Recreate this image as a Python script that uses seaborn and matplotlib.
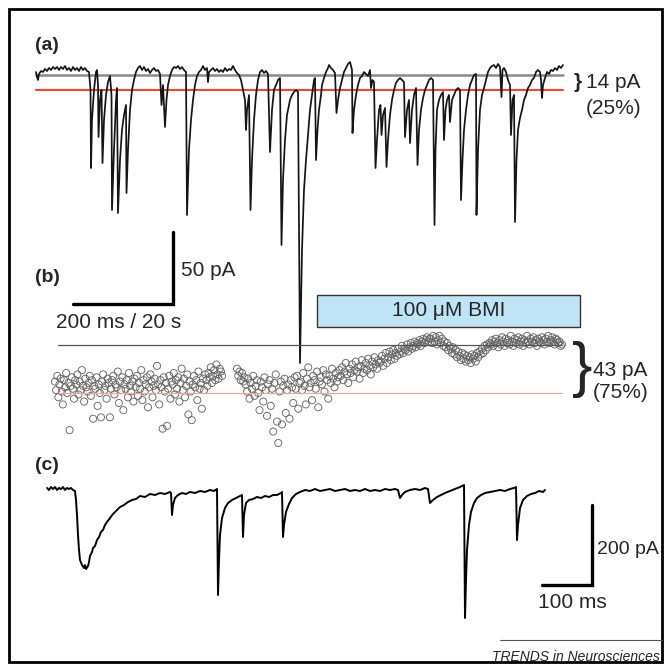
import numpy as np
import matplotlib
matplotlib.use('Agg')
import matplotlib.pyplot as plt
from matplotlib.patches import Rectangle
from matplotlib.lines import Line2D
import seaborn as sns

# (a) whole-cell trace: time (ms), current (pA, 0 = upper gray level)
a_ms = [0, 2, 4, 6, 10, 14, 18, 22, 26, 30, 34, 38, 42, 46, 50, 54, 58, 62, 66, 70, 74, 78, 82, 86, 90, 94, 98, 102, 106,
        109, 110, 112, 116, 120, 122, 124, 125, 128, 131, 133, 136, 140, 144, 148, 151, 152, 156, 160, 162, 164, 168, 172,
        176, 180, 181, 184, 188, 192, 196, 200, 204, 208, 212, 216, 220, 224, 228, 232, 236, 240, 244, 248, 251, 254, 258,
        261, 264, 268, 272, 276, 280, 284, 288, 292, 296, 300, 302, 306, 310, 314, 318, 322, 326, 330, 334, 338, 342, 344,
        346, 350, 354, 358, 362, 366, 370, 374, 378, 382, 386, 390, 394, 398, 402, 406, 410, 414, 418, 420, 422, 426, 429,
        432, 436, 440, 444, 448, 452, 456, 460, 464, 468, 472, 476, 480, 484, 488, 491, 494, 498, 502, 508, 512, 516, 520,
        524, 528, 532, 536, 540, 544, 548, 552, 554, 556, 558, 560, 563, 566, 570, 572, 576, 580, 584, 586, 590, 594, 598,
        601, 604, 608, 612, 616, 620, 624, 628, 632, 633, 636, 640, 644, 648, 652, 656, 660, 664, 668, 670, 673, 676, 679,
        682, 686, 689, 691, 694, 698, 701, 704, 708, 712, 716, 720, 724, 728, 732, 736, 738, 742, 746, 748, 752, 756, 760,
        763, 766, 770, 774, 778, 782, 786, 790, 794, 797, 799, 802, 806, 810, 814, 816, 819, 822, 826, 828, 832, 836, 840,
        844, 848, 850, 853, 856, 860, 864, 868, 872, 876, 880, 881, 884, 888, 892, 896, 900, 904, 908, 912, 916, 920, 924,
        928, 931, 933, 936, 940, 944, 948, 950, 953, 956, 958, 961, 964, 968, 972, 976, 980, 984, 988, 992, 996, 1000, 1004,
        1008, 1010, 1012, 1014, 1018, 1022, 1026, 1030, 1034, 1038, 1042, 1046, 1050, 1054]
a_pA = [2.1, -1.4, -3.5, 0.7, 2.8, 2.1, 4.2, 2.8, 4.9, 3.5, 5.6, 4.2, 5.6, 3.5, 5.6, 4.2, 6.3, 3.5, 4.9, 2.8, 5.6, 3.5,
        4.9, 2.8, 5.6, 3.5, 4.9, 2.8, 2.1,
        -10.5, -65.1, -31.5, -10.5, 2.1, 3.5, -7, -43.4, -17.5, -10.5, -61.6, -31.5, -14, -4.9, -0.7, -14, -94.5, -52.5,
        -17.5, -9.1, -96.6, -59.5, -38.5, -28, -21, -82.6, -52.5, -24.5, -10.5, -3.5, 2.1, 4.9, 6.3, 3.5, 5.6, 2.8, 4.2,
        1.4, 3.5, 4.9, 2.8, 3.5, 0.7, -21, -7, -36.4, -17.5, -7, -0.7, 3.5, 5.6, 4.9, 6.3, 4.2, 5.6, 3.5, 2.1, -98, -52.5,
        -31.5, -17.5, -7, -0.7, 2.1, 3.5, 6.3, 3.5, 4.9, -4.9, 2.1, 3.5, 4.9, 2.8, 4.2, 2.1, 3.5, 2.1, 4.9, 2.8, 4.2, 3.5,
        6.3, 3.5, 1.4, 0, -3.5, -10.5, -17.5, -38.5, -24.5, -14, -94.5, -59.5, -31.5, -14, -3.5, 2.1, 3.5, 1.4, 2.8, 0.7,
        -53.9, -24.5, -10.5, -7, -3.5, -2.1, -119, -73.5, -45.5, -28, -17.5, -14, -11.9, -10.5, -11.9, -201.6, -122.5,
        -80.5, -59.5, -42, -24.5, -14, -9.1, -3.5, -2.1, -59.5, -38.5, -24.5, -14, -7, -2.1, 2.1, 4.9, 7, 4.9, 3.5, 1.4,
        -26.6, -17.5, -9.1, -3.5, 2.1, 4.9, 7.7, 9.1, 3.5, -40.6, -24.5, -14, -7, -2.1, -0.7, 2.1, 0.7, -0.7, 3.5, -9.1,
        -3.5, -4.9, -65.1, -45.5, -24.5, -21, -42, -28, -23.1, -64.4, -45.5, -28, -17.5, -10.5, -5.6, -3.5, -2.1, -3.5,
        -4.9, -43.4, -24.5, -17.5, -47.6, -24.5, -14, -9.1, -63, -38.5, -24.5, -16.1, -10.5, -7, -3.5, -2.1, -3.5, -105,
        -52.5, -24.5, -17.5, -14, -11.9, -45.5, -24.5, -17.5, -14, -32.9, -17.5, -14, -10.5, -9.1, -10.5, -87.5, -59.5,
        -38.5, -24.5, -14, -7, -3.5, 0, 0.7, -98, -52.5, -24.5, -14, -9.1, -3.5, 2.1, 4.9, 6.3, 7, 4.9, 7.7, 5.6, -15.4,
        3.5, 4.9, 2.1, -3.5, -7, -42, -17.5, -14, -102.9, -59.5, -38.5, -30.1, -24.5, -17.5, -14, -9.1, -7, -3.5, -2.1, 2.1,
        3.5, 2.1, -3.5, -16.1, -7, -2.1, 2.1, 0.7, 3.5, 2.8, 4.9, 3.5, 6.3, 4.9, 7]
a_level_gray = 0.0
a_level_red = -10.5

# (b) holding current per sweep (pA, relative to control mean), two recording stretches
b_seg1_s = (0.0, 33.4)
b_seg1_pA = [8, 2, 12, -3, 6, 10, 1, -8, 9, 4, 14, 0, 7, -26, 5,
             11, 3, -4, 9, 6, 13, -1, 8, 2, 16, 5, -6, 10, 4, 1,
             7, 12, -2, 9, -18, 5, 3, 11, -9, 6, 0, -17, 8, 13, 2,
             5, -4, 10, 7, -17, 3, 9, 12, -1, 6, 4, 15, -7, 8, 2,
             11, -12, 6, 3, 9, -3, 14, 5, 1, 8, -6, 10, 4, 12, -2,
             7, 3, 16, -5, 9, 1, 6, 11, -10, 4, 13, 8, -3, 5, 10,
             2, 19, 6, -8, 9, 4, -25, 11, 1, 7, -23, 3, 12, -4, 8,
             6, 14, -1, 9, 3, 11, -6, 7, 17, 2, 10, -3, 5, 13, -15,
             8, 1, -19, 6, 12, 4, 9, -5, 15, 3, 7, -11, 10, 2, 13,
             9, 5, 14, 11, 18, 7, 12, 16, 9, 20, 13, 10, 17, 15, 12]
b_seg2_s = (36.4, 101.4)
b_seg2_pA = [17, 12, 15, 9, 14, 8, 11,
             6, 1, 10, -4, 7, 3, 12, -2, 5, 9, 0, -12, 8, 4, -6, 11, 2, -16, 6, 9, -9, 3, -27, 7, 13, -20, -35, 1, 8,
             -22, 5, 10, -14, 2, 6, -18, 9, 4, -7, 11, 3, 12, -11, 7,
             8, 2, 14, 5, -8, 10, 18, 4, 7, -5, 12, 9, 3, 15, -10, 8, 11, 6, 16, 1, 13, 9, -4, 12, 7, 17, 10, 4, 14, 8,
             11, 16,
             12, 18, 9, 15, 21, 13, 7, 17, 14, 20, 11, 16, 22, 15, 18, 10, 19, 23, 14, 17, 21, 16, 24, 19, 13, 22, 18,
             25, 20, 17, 23, 21,
             22, 26, 19, 24, 28, 21, 25, 29, 23, 27, 30, 24, 28, 26, 31, 27, 29, 33, 28, 31, 30, 34, 29, 32, 35, 31, 33,
             36, 32, 35, 34, 37, 33, 36, 38, 35, 37, 39, 36, 38,
             38, 35, 40, 36, 39, 34, 37, 40, 35, 38, 33, 36, 32, 35, 30, 33,
             31, 28, 32, 27, 30, 25, 29, 26, 23, 28, 24, 27, 22, 26, 23, 25, 21, 27, 24, 26, 22, 28, 25, 29, 27, 31, 28,
             33, 30, 34, 32, 35,
             34, 37, 33, 36, 38, 35, 32, 37, 34, 39, 36, 33, 38, 35, 37, 34, 40, 36, 33, 38, 35, 37, 39, 34, 36, 38, 33,
             37, 35, 40, 36, 34, 38, 36, 39, 35, 37, 33, 38, 36, 35, 39, 37, 34, 38, 36, 40, 35, 37, 39, 36, 34, 38, 37,
             35, 36, 33, 34]
b_level_gray = 33.6
b_level_red = 0.0
b_line_s = (0.6, 101.4)
bmi_s = (52.4, 105.0)
bmi_pA = (46.2, 68.6)

# (c) expanded trace: time (ms), current (pA)
c_ms = [0, 4, 8, 12, 16, 20, 24, 28, 32, 36, 40, 44, 48, 52, 56, 58, 60, 62, 64, 66, 70, 74, 76, 78, 82, 84, 86, 90, 92,
        96, 100, 104, 108, 112, 116, 120, 126, 132, 138, 146, 154, 162, 170, 178, 186, 196, 206, 216, 226, 236, 246, 248,
        250, 252, 256, 262, 270, 278, 286, 296, 306, 316, 326, 334, 340, 342, 344, 346, 350, 356, 362, 370, 378, 386, 390,
        392, 394, 398, 404, 412, 420, 428, 436, 444, 452, 460, 468, 470, 472, 474, 478, 484, 490, 498, 506, 516, 526, 536,
        546, 556, 566, 576, 586, 596, 606, 616, 626, 636, 646, 656, 666, 676, 686, 696, 702, 706, 710, 716, 726, 736, 746,
        756, 762, 766, 772, 780, 788, 796, 806, 816, 826, 834, 836, 838, 840, 844, 848, 854, 860, 868, 876, 886, 896, 906,
        916, 926, 934, 938, 940, 942, 946, 952, 960, 968, 976, 984, 992, 996]
c_pA = [2.5, -2.5, 5, 0, 5, -2.5, 2.5, 0, 5, -2.5, 2.5, 0, 2.5, -2.5, -5, -27.5, -65, -115, -152.5, -177.5, -190,
        -197.5, -190, -200, -192.5, -182.5, -167.5, -157.5, -147.5, -142.5, -127.5, -120, -107.5, -102.5, -90, -82.5,
        -72.5, -62.5, -55, -45, -40, -32.5, -27.5, -25, -17.5, -20, -12.5, -15, -10, -12.5, -7.5, -10, -65, -40, -22.5,
        -15, -10, -12.5, -7.5, -10, -5, -7.5, -2.5, -5, 0, -265, -177.5, -115, -72.5, -47.5, -35, -27.5, -22.5, -17.5,
        -15, -120, -65, -35, -27.5, -25, -20, -22.5, -17.5, -20, -15, -15, -10, -7.5, -120, -90, -57.5, -37.5, -22.5,
        -12.5, -7.5, -2.5, -5, 0, -5, -2.5, 0, -5, -2.5, 0, -5, -2.5, -5, 0, -5, -2.5, -5, 0, -2.5, 0, -2.5, -22.5, -15,
        -7.5, -2.5, 0, -2.5, 2.5, 0, -35, -27.5, -20, -15, -10, -5, 0, 5, 10, -322.5, -227.5, -152.5, -90, -57.5, -35,
        -22.5, -15, -10, -7.5, -5, -2.5, -5, 0, 2.5, 5, -127.5, -90, -47.5, -27.5, -17.5, -12.5, -10, -5, -7.5, -2.5]

W = H = 670
sns.set_style('white')
plt.rcParams['font.family'] = ['Liberation Sans', 'DejaVu Sans']

fig = plt.figure(figsize=(6.7, 6.7), dpi=100)


def panel(x0, y0, px_x, px_y):
    # full-figure transparent axes; data 0 sits at pixel (x0, y0)
    ax = fig.add_axes([0, 0, 1, 1])
    ax.set_xlim(-x0 / px_x, (W - x0) / px_x)
    ax.set_ylim((y0 - H) / px_y, y0 / px_y)
    ax.axis('off')
    ax.patch.set_alpha(0)
    return ax


def ftext(x, y, s, **kw):
    kw.setdefault('va', 'center')
    kw.setdefault('fontsize', 15)
    fig.text(x / W, 1 - y / H, s, **kw)


# ---- (a)
ax_a = panel(36, 75, 0.5, 1 / 0.7)
ax_a.plot([a_ms[0], a_ms[-1]], [a_level_gray] * 2, color='#8a8a8a', lw=1.8)
ax_a.plot([a_ms[0], a_ms[-1]], [a_level_red] * 2, color='#f0472f', lw=1.5)
sns.lineplot(x=a_ms, y=a_pA, estimator=None, sort=False, color='#151515', lw=1.25, ax=ax_a)
# scale bar 200 ms / 50 pA
ax_a.plot([74, 274, 274], [-160, -160, -110], color='black', lw=2.4, solid_joinstyle='miter')

# ---- (b)
ax_b = panel(55, 393, 5, 1 / 0.7)
ax_b.plot(b_line_s, [b_level_gray] * 2, color='#555555', lw=0.9)
ax_b.plot(b_line_s, [b_level_red] * 2, color='#f2a59c', lw=0.9)
t1 = np.linspace(*b_seg1_s, len(b_seg1_pA))
t2 = np.linspace(*b_seg2_s, len(b_seg2_pA))
for t, v in [(t1, b_seg1_pA), (t2, b_seg2_pA)]:
    sns.scatterplot(x=t, y=v, ax=ax_b, marker='o', s=26, facecolor='none',
                    edgecolor='#666666', linewidth=0.65, legend=False)
ax_b.add_patch(Rectangle((bmi_s[0], bmi_pA[0]), bmi_s[1] - bmi_s[0], bmi_pA[1] - bmi_pA[0],
                         facecolor='#bfe4f6', edgecolor='#333333', lw=1.0))
ax_b.text(np.mean(bmi_s), np.mean(bmi_pA), '100 μM BMI', ha='center', va='center', fontsize=15)

# ---- (c)
ax_c = panel(47, 489, 0.5, 0.4)
sns.lineplot(x=c_ms, y=c_pA, estimator=None, sort=False, color='black', lw=1.4, ax=ax_c)
ax_c.plot([990, 1090, 1090], [-240, -240, -40], color='black', lw=2.4, solid_joinstyle='miter')

# ---- labels
ftext(35, 45, '(a)', fontweight='bold', fontsize=14)
ftext(35, 277, '(b)', fontweight='bold', fontsize=14)
ftext(35, 465, '(c)', fontweight='bold', fontsize=14)
ftext(574, 82, '}', fontsize=15, fontweight='bold')
ftext(586, 82, '14 pA')
ftext(586, 108, '(25%)')
ftext(181, 270, '50 pA')
ftext(56, 322, '200 ms / 20 s')
ftext(572, 370, '}', fontsize=44)
ftext(593, 371, '43 pA')
ftext(593, 393, '(75%)')
ftext(597, 550, '200 pA', fontsize=14)
ftext(572, 603, '100 ms', ha='center')
ftext(660, 657, 'TRENDS in Neurosciences', ha='right', fontsize=10, style='italic')
fig.add_artist(Line2D([500 / W, 662 / W], [1 - 640 / H] * 2, color='#555555', lw=0.8))

# outer frame
fig.add_artist(Rectangle((9 / W, 8 / H), 653 / W, 653 / H, fill=False, edgecolor='black', lw=2))

fig.savefig('out.png', dpi=100)
